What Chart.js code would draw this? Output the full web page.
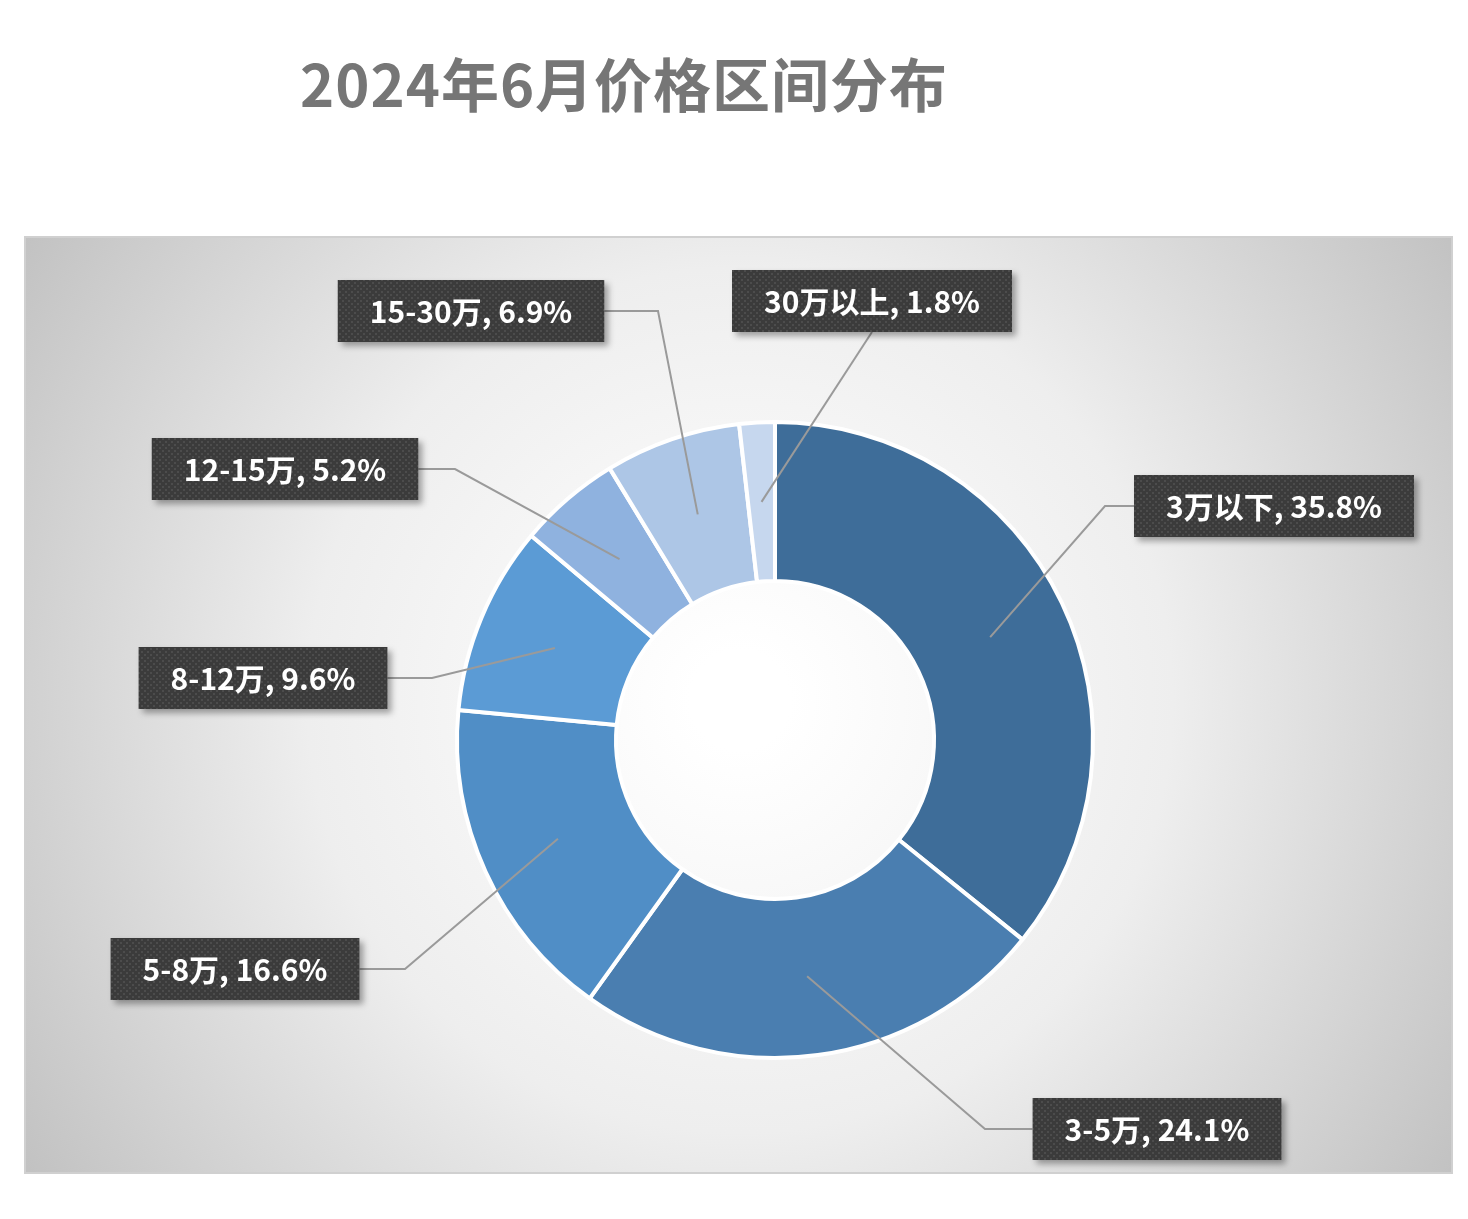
<!DOCTYPE html>
<html><head><meta charset="utf-8">
<script src="https://cdn.jsdelivr.net/npm/chart.js@4"></script>
<style>
body{margin:0;background:#fff;width:1468px;height:1219px;overflow:hidden;font-family:"Noto Sans CJK SC","Open Sans",sans-serif}
#title{position:absolute;left:300px;top:40px;font-size:58px;font-weight:bold;color:#767676;letter-spacing:1px}
#wrap{position:absolute;left:0;top:0;width:1468px;height:1219px}
</style></head><body>
<div id="wrap"><canvas id="c"></canvas></div>
<div id="title">2024年6月价格区间分布</div>
<script>
// data
const categories = ['3万以下', '3-5万', '5-8万', '8-12万', '12-15万', '15-30万', '30万以上'];
const shares = [35.8, 24.1, 16.6, 9.6, 5.2, 6.9, 1.8];
const colors = ['#3e6d99', '#4a7eb0', '#508ec6', '#5b9bd5', '#8fb2df', '#adc6e6', '#c6d7ee'];
// label box centers, and elbow points of the leader lines
const boxes = [[1274, 506], [1157, 1129], [235, 969], [263, 678], [285, 469], [471, 311], [872, 301]];
const elbows = [[1105, 506], [985, 1129], [405, 969], [432, 678], [455, 469], [658, 311], [872, 332]];

const bgPlugin = {
  id: 'bg',
  beforeDraw(chart) {
    const ctx = chart.ctx;
    ctx.save();
    const g = ctx.createRadialGradient(740, 700, 50, 740, 700, 900);
    g.addColorStop(0, '#ffffff');
    g.addColorStop(0.45, '#eeeeee');
    g.addColorStop(1, '#bdbdbd');
    ctx.fillStyle = g;
    ctx.fillRect(25, 237, 1427, 936);
    ctx.strokeStyle = '#d0d0d0';
    ctx.lineWidth = 2;
    ctx.strokeRect(25, 237, 1427, 936);
    ctx.restore();
  }
};

let pattern = null;
function getPattern(ctx) {
  if (pattern) return pattern;
  const p = document.createElement('canvas');
  p.width = 6; p.height = 6;
  const pc = p.getContext('2d');
  pc.fillStyle = '#3b3b3b'; pc.fillRect(0, 0, 6, 6);
  pc.fillStyle = '#4c4c4c'; pc.fillRect(0, 0, 2, 2); pc.fillRect(3, 3, 2, 2);
  pattern = ctx.createPattern(p, 'repeat');
  return pattern;
}

const labelPlugin = {
  id: 'labels',
  afterDraw(chart) {
    const ctx = chart.ctx;
    const meta = chart.getDatasetMeta(0);
    ctx.save();
    ctx.font = 'bold 30px "Noto Sans CJK SC", "Open Sans", sans-serif';
    meta.data.forEach((arc, i) => {
      const p = arc.getProps(['x', 'y', 'startAngle', 'endAngle', 'innerRadius', 'outerRadius'], true);
      const a = (p.startAngle + p.endAngle) / 2;
      const r = (p.innerRadius + p.outerRadius) / 2;
      const ax = p.x + Math.cos(a) * r, ay = p.y + Math.sin(a) * r;
      const [bx, by] = boxes[i];
      const text = categories[i] + ', ' + shares[i] + '%';
      const w = ctx.measureText(text).width + 64, h = 62;
      const left = bx - w / 2, top = by - h / 2;
      const [ex, ey] = elbows[i];
      // leader line
      ctx.strokeStyle = '#9a9a9a';
      ctx.lineWidth = 2;
      ctx.beginPath();
      ctx.moveTo(ax, ay);
      ctx.lineTo(ex, ey);
      if (i !== 6) ctx.lineTo(ex < bx ? left : left + w, by);
      ctx.stroke();
      // box
      ctx.save();
      ctx.shadowColor = 'rgba(0,0,0,0.35)';
      ctx.shadowBlur = 6; ctx.shadowOffsetX = 4; ctx.shadowOffsetY = 4;
      ctx.fillStyle = getPattern(ctx);
      ctx.fillRect(left, top, w, h);
      ctx.restore();
      ctx.fillStyle = '#ffffff';
      ctx.textAlign = 'center';
      ctx.textBaseline = 'middle';
      ctx.fillText(text, bx, by + 1);
    });
    ctx.restore();
  }
};

new Chart(document.getElementById('c').getContext('2d'), {
  type: 'doughnut',
  data: {
    labels: categories,
    datasets: [{
      data: shares,
      backgroundColor: colors,
      borderColor: '#ffffff',
      borderWidth: 4
    }]
  },
  options: {
    responsive: true,
    maintainAspectRatio: false,
    animation: false,
    cutout: '50%',
    layout: { padding: { left: 455, right: 373, top: 420, bottom: 159 } },
    plugins: { legend: { display: false }, tooltip: { enabled: false } }
  },
  plugins: [bgPlugin, labelPlugin]
});
</script>
</body></html>
